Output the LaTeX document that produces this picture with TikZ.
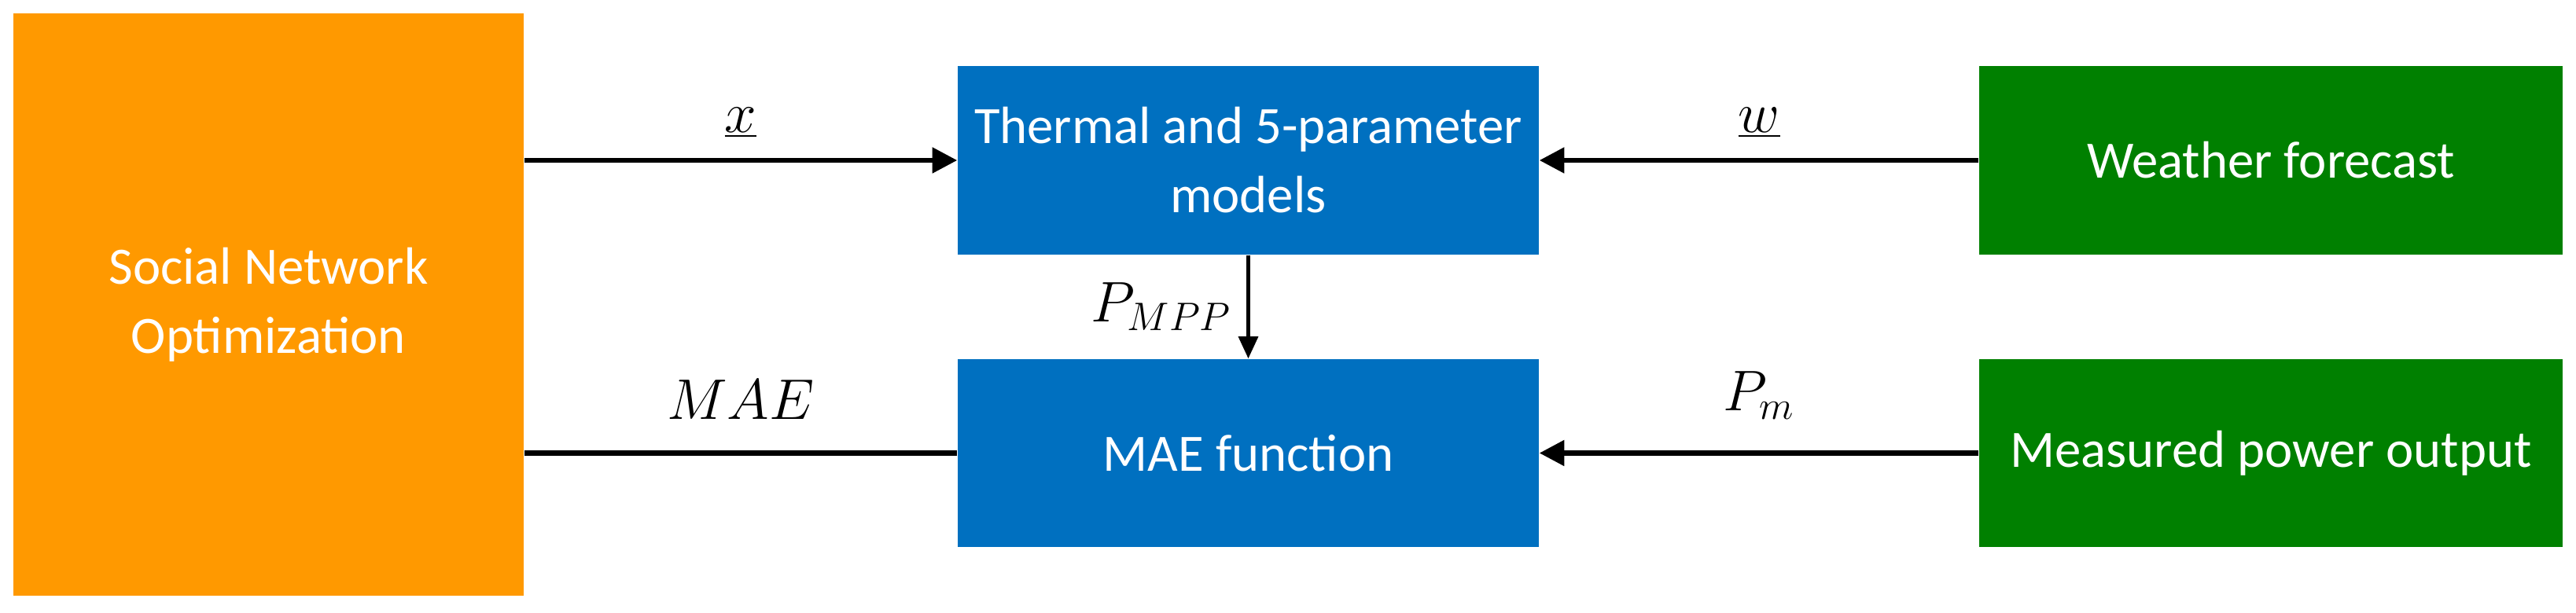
\documentclass[tikz,border=0pt]{standalone}
\usepackage{fontspec}
\setmainfont{Carlito}
\usetikzlibrary{arrows.meta}
\definecolor{snoorange}{RGB}{255,153,0}
\definecolor{modelblue}{RGB}{0,112,192}
\definecolor{datagreen}{RGB}{0,128,0}
\tikzset{
  block/.style={draw=none, text=white, align=center, font=\fontsize{19}{25}\selectfont, inner sep=0pt},
  link/.style={line width=1.8pt},
  flow/.style={link, -{Triangle[length=9pt,width=9pt]}},
  lbl/.style={font=\fontsize{22}{26}\selectfont}
}
\begin{document}
\begin{tikzpicture}
  \useasboundingbox (0,0) rectangle (32.76,7.8);
  % blocks
  \node[block, fill=snoorange, minimum width=6.49cm, minimum height=7.41cm] (sno) at (3.415,3.925) {Social Network\\Optimization};
  \node[block, fill=modelblue, minimum width=7.39cm, minimum height=2.4cm] (models) at (15.875,5.76) {Thermal and 5-parameter\\models};
  \node[block, fill=modelblue, minimum width=7.39cm, minimum height=2.39cm] (mae) at (15.875,2.035) {MAE function};
  \node[block, fill=datagreen, minimum width=7.42cm, minimum height=2.4cm] (weather) at (28.88,5.76) {Weather forecast};
  \node[block, fill=datagreen, minimum width=7.42cm, minimum height=2.39cm] (meas) at (28.88,2.035) {Measured power output};
  % connectors
  \draw[flow] (sno.east |- models) -- (models.west) node[lbl, midway, above=4pt] {$\underline{x}$};
  \draw[flow] (weather.west) -- (models.east) node[lbl, midway, above=4pt] {$\underline{w}$};
  \draw[link] (mae.west) -- (sno.east |- mae) node[lbl, midway, above=8pt] {$MAE$};
  \draw[flow] (meas.west) -- (mae.east) node[lbl, midway, above=8pt] {$P_m$};
  \draw[link, line width=1.3pt, -{Triangle[length=8pt,width=7pt]}] (models.south) -- (mae.north) node[lbl, midway, left=2pt] {$P_{MPP}$};
\end{tikzpicture}
\end{document}
